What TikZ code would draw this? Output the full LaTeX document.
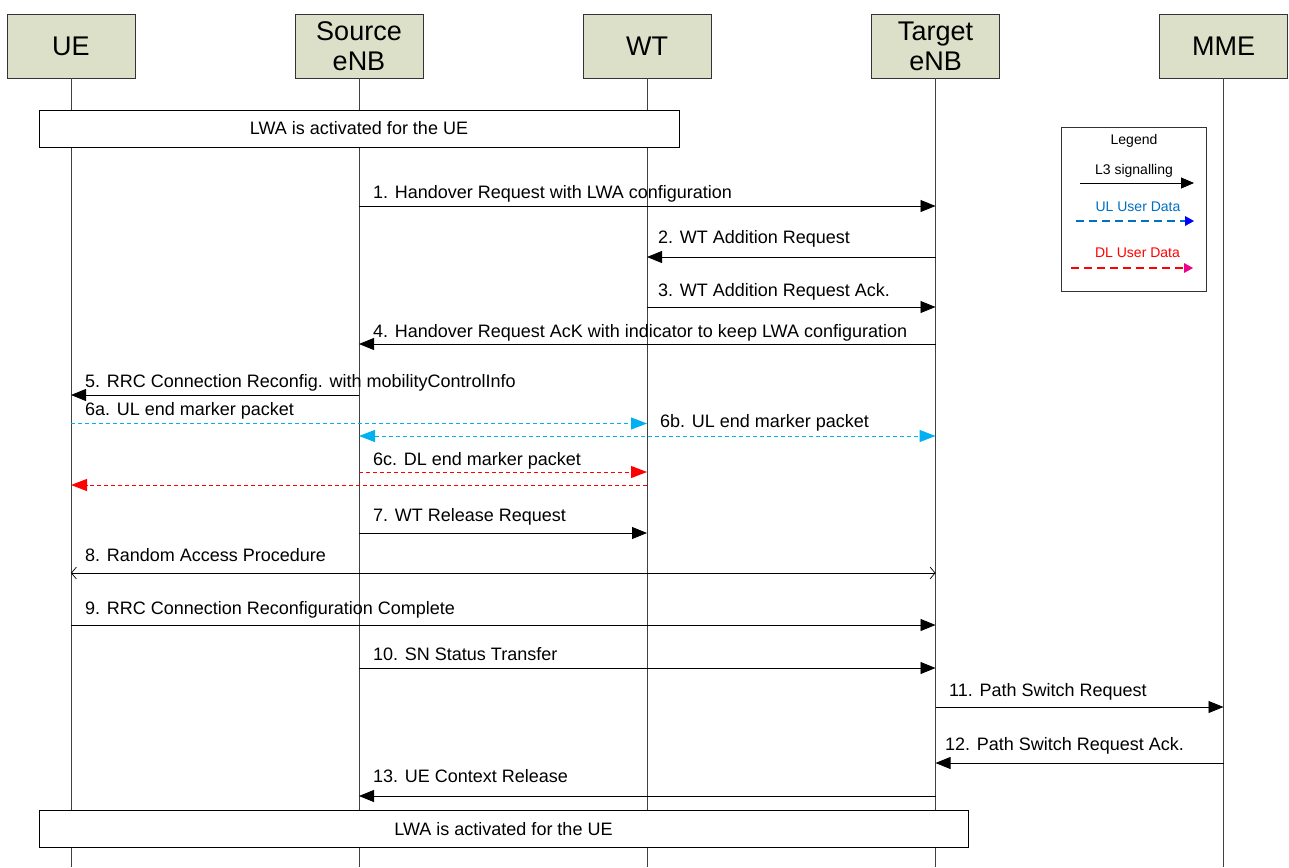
\documentclass[tikz,border=0pt]{standalone}
\usepackage{fontspec}
\setmainfont{Liberation Sans}
\usetikzlibrary{arrows.meta}
\definecolor{hdr}{RGB}{221,224,200}
\definecolor{cyanmsg}{RGB}{0,176,240}
\definecolor{ulblue}{RGB}{0,112,192}
\begin{document}
\begin{tikzpicture}[x=1pt,y=-1pt,
  entity/.style={draw=black!80, line width=0.8pt, fill=hdr, minimum width=128pt, minimum height=64pt, inner sep=0pt, align=center, font=\fontsize{27}{30}\selectfont},
  life/.style={draw=black!75, line width=0.7pt},
  msg/.style={line width=0.8pt, -{Triangle[length=15pt,width=12pt]}},
  ulmsg/.style={draw=cyanmsg, line width=1pt, dash pattern=on 4pt off 3pt, -{Triangle[length=16pt,width=12pt,color=cyanmsg]}},
  ulboth/.style={draw=cyanmsg, line width=1pt, dash pattern=on 4pt off 3pt, {Triangle[length=16pt,width=12pt,color=cyanmsg]}-{Triangle[length=16pt,width=12pt,color=cyanmsg]}},
  dlmsg/.style={draw=red, line width=1pt, dash pattern=on 4pt off 3pt, -{Triangle[length=16pt,width=12pt,color=red]}},
  rach/.style={line width=0.7pt, {Straight Barb[length=5pt,width=12pt]}-{Straight Barb[length=5pt,width=12pt]}},
  lbl/.style={anchor=base west, inner sep=0pt, font=\fontsize{18}{21}\selectfont},
  lwabox/.style={draw=black, line width=0.9pt, fill=white, minimum height=37pt, inner sep=0pt, font=\fontsize{18}{21}\selectfont},
  legtxt/.style={inner sep=0pt, font=\fontsize{14}{16}\selectfont},
  legbox/.style={draw=black!80, line width=0.8pt, fill=white, minimum width=145pt, minimum height=164pt, inner sep=0pt}
]
\useasboundingbox (0,0) rectangle (1289,867);

% entities
\node[entity] (ue)  at (71,46)   {UE};
\node[entity] (src) at (359,46)  {Source\\eNB};
\node[entity] (wt)  at (647,46)  {WT};
\node[entity] (tgt) at (935.5,46) {Target\\eNB};
\node[entity] (mme) at (1223.5,46) {MME};

% lifelines
\foreach \n in {ue,src,wt,tgt,mme}
  \draw[life] (\n.south) -- (\n.south |- 0,867);

% LWA boxes
\node[lwabox, minimum width=640pt] (lwa1) at (359,128.5) {LWA is activated for the UE};
\node[lwabox, minimum width=929pt] (lwa2) at (503.5,829) {LWA is activated for the UE};

% legend
\node[legbox] (leg) at (1133.5,209) {};
\node[legtxt] (legt) at (1134,141) {Legend};
\node[legtxt] (l3t) at (1134,171) {L3 signalling};
\coordinate (l3a) at (1080,183);
\coordinate (l3b) at (1194,183);
\draw[line width=0.8pt, -{Triangle[length=13pt,width=11pt]}] (l3a) -- (l3b);
\node[legtxt, text=ulblue] (ult) at (1138,207) {UL User Data};
\coordinate (ula) at (1076,221);
\coordinate (ulb) at (1194,221);
\draw[draw=ulblue, line width=2pt, dash pattern=on 8pt off 5pt, -{Triangle[length=9pt,width=10pt,color=blue,line width=0pt]}] (ula) -- (ulb);
\node[legtxt, text=red] (dlt) at (1137.5,253) {DL User Data};
\coordinate (dla) at (1071,268);
\coordinate (dlb) at (1193,268);
\draw[draw=red, line width=2pt, dash pattern=on 8pt off 5pt, -{Triangle[length=9pt,width=10pt,color=magenta,line width=0pt]}] (dla) -- (dlb);

% messages
\draw[msg] (src |- 0,206) -- (tgt |- 0,206);
\node[lbl] (t1) at (373,198) {1. Handover Request with LWA configuration};

\draw[msg] (tgt |- 0,257) -- (wt |- 0,257);
\node[lbl] (t2) at (658,243) {2. WT Addition Request};

\draw[msg] (wt |- 0,307) -- (tgt |- 0,307);
\node[lbl] (t3) at (658,296) {3. WT Addition Request Ack.};

\draw[msg] (tgt |- 0,344) -- (src |- 0,344);
\node[lbl] (t4) at (373,337) {4. Handover Request AcK with indicator to keep LWA configuration};

\draw[msg] (src |- 0,395) -- (ue |- 0,395);
\node[lbl] (t5) at (85,387) {5. RRC Connection Reconfig. with mobilityControlInfo};

\draw[ulmsg] (ue |- 0,423.5) -- (wt |- 0,423.5);
\node[lbl] (t6a) at (85,415) {6a. UL end marker packet};

\draw[ulboth] (src |- 0,436) -- (tgt |- 0,436);
\node[lbl] (t6b) at (660,427) {6b. UL end marker packet};

\draw[dlmsg] (src |- 0,472) -- (wt |- 0,472);
\node[lbl] (t6c) at (373,465) {6c. DL end marker packet};

\draw[dlmsg] (wt |- 0,485) -- (ue |- 0,485);

\draw[msg] (src |- 0,533) -- (wt |- 0,533);
\node[lbl] (t7) at (373,521) {7. WT Release Request};

\draw[rach] (ue |- 0,573) -- (tgt |- 0,573);
\node[lbl] (t8) at (85,561) {8. Random Access Procedure};

\draw[msg] (ue |- 0,625) -- (tgt |- 0,625);
\node[lbl] (t9) at (85,614) {9. RRC Connection Reconfiguration Complete};

\draw[msg] (src |- 0,668) -- (tgt |- 0,668);
\node[lbl] (t10) at (373,660) {10. SN Status Transfer};

\draw[msg] (tgt |- 0,707) -- (mme |- 0,707);
\node[lbl] (t11) at (949,696) {11. Path Switch Request};

\draw[msg] (mme |- 0,763) -- (tgt |- 0,763);
\node[lbl] (t12) at (945,750) {12. Path Switch Request Ack.};

\draw[msg] (tgt |- 0,796) -- (src |- 0,796);
\node[lbl] (t13) at (373,782) {13. UE Context Release};
\end{tikzpicture}
\end{document}
